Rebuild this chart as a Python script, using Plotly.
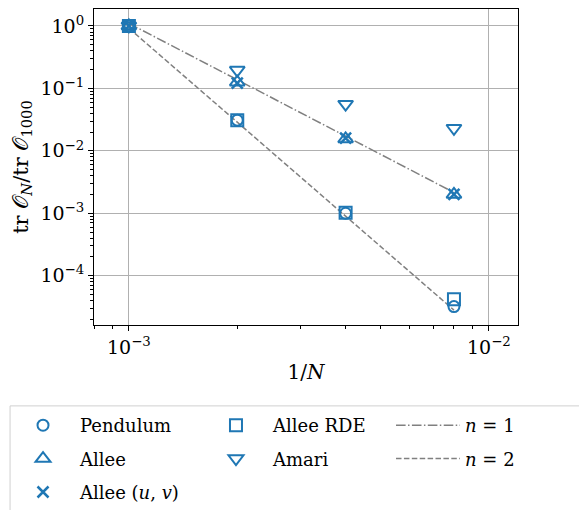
import plotly.graph_objects as go

# data
inv_N = [1e-3, 2e-3, 4e-3, 8e-3]
pendulum = [1.0, 0.031, 1.0e-3, 3.2e-5]
allee = [1.0, 0.126, 0.0155, 0.0020]
allee_uv = [1.0, 0.122, 0.0160, 0.0020]
allee_rde = [1.0, 0.031, 1.02e-3, 4.2e-5]
amari = [1.0, 0.197, 0.056, 0.023]
ref_n1 = [1.1, 1.1 / 8, 1.1 / 64, 1.1 / 512]
ref_n2 = [0.92, 0.92 / 32, 0.92 / 1024, 0.92 / 32768]

BLUE = "#1f77b4"
GRAY = "#808080"
FONT = "DejaVu Serif, serif"

fig = go.Figure()

def mk(name, y, symbol, leg, size=11, lw=2):
    fig.add_trace(go.Scatter(
        x=inv_N, y=y, mode="markers", name=name, legend=leg, legendgroup=name,
        marker=dict(symbol=symbol, size=size, color=BLUE,
                    line=dict(color=BLUE, width=lw)),
    ))

fig.add_trace(go.Scatter(x=inv_N, y=ref_n1, mode="lines", name="<i>n</i> = 1",
                         legend="legend3", legendgroup="n1",
                         line=dict(color=GRAY, width=1.5, dash="9.6px,2.4px,1.5px,2.4px")))
fig.add_trace(go.Scatter(x=inv_N, y=ref_n2, mode="lines", name="<i>n</i> = 2",
                         legend="legend3", legendgroup="n2",
                         line=dict(color=GRAY, width=1.5, dash="5.5px,2.4px")))

mk("Pendulum", pendulum, "circle-open", "legend", size=11)
mk("Allee", allee, "triangle-up-open", "legend", size=13)
mk("Allee (<i>u</i>, <i>v</i>)", allee_uv, "x-thin-open", "legend", size=11, lw=2.5)
mk("Allee RDE", allee_rde, "square-open", "legend2", size=12)
mk("Amari", amari, "triangle-down-open", "legend2", size=13)

ymaj = [1e-4, 1e-3, 1e-2, 1e-1, 1]
ytxt = ["10<sup>−4</sup>", "10<sup>−3</sup>", "10<sup>−2</sup>", "10<sup>−1</sup>", "10<sup>0</sup>"]
ymin = [m * 10 ** e for e in range(-5, 1) for m in range(2, 10)]
xmaj = [1e-3, 1e-2]
xtxt = ["10<sup>−3</sup>", "10<sup>−2</sup>"]
xmin = [m * 10 ** e for e in range(-4, -1) for m in range(2, 10)]

axis_common = dict(
    type="log", showline=True, linecolor="black", linewidth=1, mirror=True,
    ticks="outside", ticklen=5, tickwidth=1, tickcolor="black",
    showgrid=True, gridcolor="#b0b0b0", gridwidth=1, zeroline=False,
    tickfont=dict(family=FONT, size=19, color="black"),
)

fig.update_xaxes(**axis_common, range=[-3.097, -1.919], tickmode="array",
                 tickvals=xmaj, ticktext=xtxt,
                 minor=dict(tickmode="array", tickvals=xmin, ticks="outside",
                            ticklen=3, tickcolor="black", showgrid=False),
                 title=dict(text="1/<i>N</i>", font=dict(family=FONT, size=20, color="black"),
                            standoff=8))
fig.update_yaxes(**axis_common, range=[-4.79, 0.272], tickmode="array",
                 tickvals=ymaj, ticktext=ytxt,
                 minor=dict(tickmode="array", tickvals=ymin, ticks="outside",
                            ticklen=3, tickcolor="black", showgrid=False),
                 title=dict(text="tr 𝒪<sub><i>N</i></sub>/tr 𝒪<sub>1000</sub>",
                            font=dict(family=FONT, size=21, color="black"), standoff=6))

LEGY = -0.2595
leg_common = dict(orientation="v", y=LEGY, xanchor="left", yanchor="top",
                  borderwidth=0, bgcolor="rgba(0,0,0,0)", itemwidth=64,
                  tracegroupgap=7, traceorder="grouped",
                  font=dict(family=FONT, size=18, color="black"))

fig.update_layout(
    width=579, height=510,
    margin=dict(l=94, r=61, t=9, b=185, autoexpand=False),
    plot_bgcolor="white", paper_bgcolor="white",
    legend=dict(x=-0.2075, **leg_common),
    legend2=dict(x=0.2476, **leg_common),
    legend3=dict(x=0.7005, **leg_common),
    shapes=[dict(type="rect", xref="paper", yref="paper",
                 x0=-0.198, x1=1.158, y0=-0.256, y1=-0.617,
                 line=dict(color="#d0d0d0", width=1), fillcolor="rgba(0,0,0,0)",
                 layer="below")],
)

fig.write_html("out.html")
